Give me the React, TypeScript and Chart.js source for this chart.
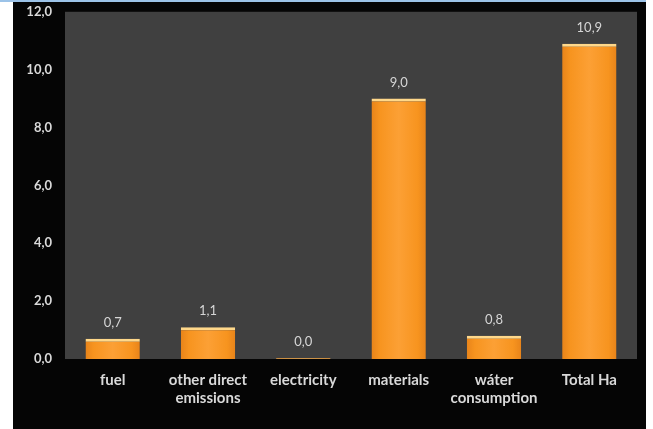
import React, { useEffect, useRef } from "react";
import { Chart, registerables } from "chart.js";

Chart.register(...registerables);

const categories: (string | string[])[] = [
  "fuel",
  ["other direct", "emissions"],
  "electricity",
  "materials",
  ["wáter", "consumption"],
  "Total Ha",
];
const hectares: number[] = [0.7, 1.1, 0.0, 9.0, 0.8, 10.9];
const yTicks: number[] = [0, 2, 4, 6, 8, 10, 12];

const fmt = (v: number) => v.toFixed(1).replace(".", ",");

const BAR_PCT = 0.57;

// grey plot panel behind the bars
const plotBackground = {
  id: "plotBackground",
  beforeDraw(chart: any) {
    const { ctx, chartArea } = chart;
    ctx.save();
    ctx.fillStyle = "#404040";
    ctx.fillRect(chartArea.left, chartArea.top, chartArea.right - chartArea.left, chartArea.bottom - chartArea.top);
    ctx.restore();
  },
};

// value label above each bar, decimal comma
const valueLabels = {
  id: "valueLabels",
  afterDatasetsDraw(chart: any) {
    const { ctx } = chart;
    const meta = chart.getDatasetMeta(0);
    ctx.save();
    ctx.font = "13px Lato";
    ctx.fillStyle = "#d6d6d6";
    ctx.textAlign = "center";
    ctx.textBaseline = "middle";
    meta.data.forEach((bar: any, i: number) => {
      ctx.fillText(fmt(hectares[i]), bar.x, bar.y - 16);
    });
    ctx.restore();
  },
};

export default function App() {
  const ref = useRef<HTMLCanvasElement | null>(null);

  useEffect(() => {
    if (!ref.current) return;
    const chart = new Chart(ref.current, {
      type: "bar",
      data: {
        labels: categories,
        datasets: [
          {
            data: hectares,
            backgroundColor: (c: any) => {
              const ch = c.chart;
              const xs = ch.scales?.x;
              if (!xs || c.type !== "data" || !isFinite(xs.width)) return "#F7941D";
              const cx = xs.getPixelForValue(c.dataIndex);
              const half = (xs.width / categories.length) * BAR_PCT / 2;
              const g = ch.ctx.createLinearGradient(cx - half, 0, cx + half, 0);
              g.addColorStop(0, "#E8841A");
              g.addColorStop(0.15, "#F7941F");
              g.addColorStop(0.5, "#FCA035");
              g.addColorStop(0.85, "#F7941F");
              g.addColorStop(1, "#E8841A");
              return g;
            },
            borderColor: "#FFD88A",
            borderWidth: { top: 3, right: 0, bottom: 0, left: 0 },
            borderSkipped: false,
            minBarLength: 1,
            categoryPercentage: 1,
            barPercentage: BAR_PCT,
          },
        ],
      },
      options: {
        responsive: false,
        animation: false,
        layout: { padding: { top: 1, right: 9, left: 0, bottom: 0 } },
        plugins: {
          legend: { display: false },
          tooltip: { enabled: false },
        },
        scales: {
          x: {
            grid: { display: false },
            border: { display: false },
            ticks: {
              color: "#d9d9d9",
              font: { family: "Lato", size: 15, weight: "bold", lineHeight: 1.15 },
              padding: 5,
              maxRotation: 0,
              autoSkip: false,
            },
            afterFit: (s: any) => {
              s.height = 70;
            },
          },
          y: {
            min: 0,
            max: 12,
            afterBuildTicks: (s: any) => {
              s.ticks = yTicks.map((v) => ({ value: v }));
            },
            grid: { display: false },
            border: { display: false },
            ticks: {
              color: "#d9d9d9",
              font: { family: "Lato", size: 13, weight: "bold" },
              padding: 5,
              callback: (v: any) => fmt(Number(v)),
            },
            afterFit: (s: any) => {
              s.width = 52;
            },
          },
        },
      },
      plugins: [plotBackground, valueLabels],
    });
    return () => chart.destroy();
  }, []);

  return (
    <div style={{ position: "fixed", left: 0, top: 0, width: 653, height: 429, background: "#ffffff", overflow: "hidden" }}>
      <div style={{ position: "absolute", left: 13, top: 2, width: 633, height: 427, background: "#050505", overflow: "hidden" }}>
        <canvas
          ref={ref}
          width={633}
          height={430}
          style={{ position: "absolute", left: 0, top: -3, display: "block", width: 633, height: 430 }}
        />
      </div>
      <div style={{ position: "absolute", left: 0, top: 0, width: 646, height: 2, background: "#9CC3E8" }} />
    </div>
  );
}
